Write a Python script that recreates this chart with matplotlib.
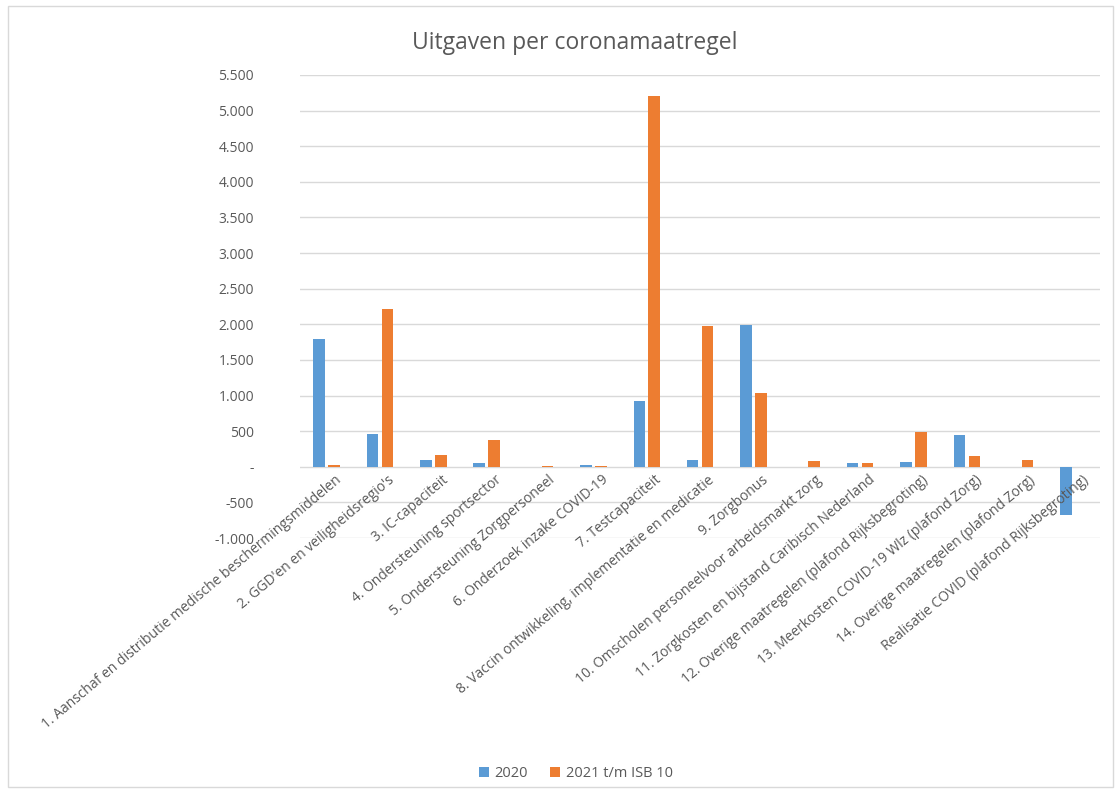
import numpy as np
import matplotlib.pyplot as plt
from matplotlib.patches import Rectangle
from matplotlib.ticker import FuncFormatter

plt.rcParams['font.family'] = ['Open Sans', 'DejaVu Sans']

# Data (mln euro)
categories = [
    "1. Aanschaf en distributie medische beschermingsmiddelen",
    "2. GGD'en en veiligheidsregio's",
    "3. IC-capaciteit",
    "4. Ondersteuning sportsector",
    "5. Ondersteuning Zorgpersoneel",
    "6. Onderzoek inzake COVID-19",
    "7. Testcapaciteit",
    "8. Vaccin ontwikkeling, implementatie en medicatie",
    "9. Zorgbonus",
    "10. Omscholen personeelvoor arbeidsmarkt zorg",
    "11. Zorgkosten en bijstand Caribisch Nederland",
    "12. Overige maatregelen (plafond Rijksbegroting)",
    "13. Meerkosten COVID-19 Wlz (plafond Zorg)",
    "14. Overige maatregelen (plafond Zorg)",
    "Realisatie COVID (plafond Rijksbegroting)",
]
values_2020 = [1800, 460, 100, 60, 0, 30, 930, 100, 1990, 0, 60, 70, 440, 0, -680]
values_2021 = [20, 2220, 170, 370, 10, 10, 5200, 1970, 1030, 80, 60, 490, 150, 90, 0]
series_names = ["2020", "2021 t/m ISB 10"]

blue = "#5B9BD5"
orange = "#ED7D31"
text_color = "#595959"

fig = plt.figure(figsize=(11.16, 7.89), dpi=100)
ax = fig.add_axes([0.2688, 0.318, 0.717, 0.587])

x = np.arange(len(categories))
w = 0.215
ax.bar(x - 0.14, values_2020, width=w, color=blue, label=series_names[0], zorder=3)
ax.bar(x + 0.14, values_2021, width=w, color=orange, label=series_names[1], zorder=3)

ax.set_xlim(-0.5, len(categories) - 0.5)
ax.set_ylim(-1000, 5500)
ax.set_yticks(np.arange(-1000, 5501, 500))


def fmt(v, pos):
    if v == 0:
        return "-"
    return f"{int(v):,}".replace(",", ".")


ax.yaxis.set_major_formatter(FuncFormatter(fmt))
ax.tick_params(axis='y', length=0, labelsize=10, labelcolor=text_color, pad=33)
ax.tick_params(axis='x', length=0, labelbottom=False)
ax.grid(axis='y', color="#D9D9D9", linewidth=1, zorder=0)
for s in ax.spines.values():
    s.set_visible(False)

# category labels next to the zero line
for i, lab in enumerate(categories):
    ax.text(i + 0.15, -80, lab, rotation=40, ha='right', va='top',
            rotation_mode='anchor', fontsize=10, color=text_color)

fig.text(0.515, 0.945, "Uitgaven per coronamaatregel", ha='center', va='center',
         fontsize=16.5, color=text_color)

fig.legend(loc='center', bbox_to_anchor=(0.516, 0.02), ncol=2, frameon=False,
           fontsize=10.5, labelcolor=text_color, handlelength=0.7, handleheight=0.7,
           columnspacing=1.5, handletextpad=0.4)

fig.patches.append(Rectangle((0.007, 0.003), 0.99, 0.99, transform=fig.transFigure,
                             fill=False, edgecolor="#D9D9D9", linewidth=1))

fig.savefig("out.png", dpi=100)
